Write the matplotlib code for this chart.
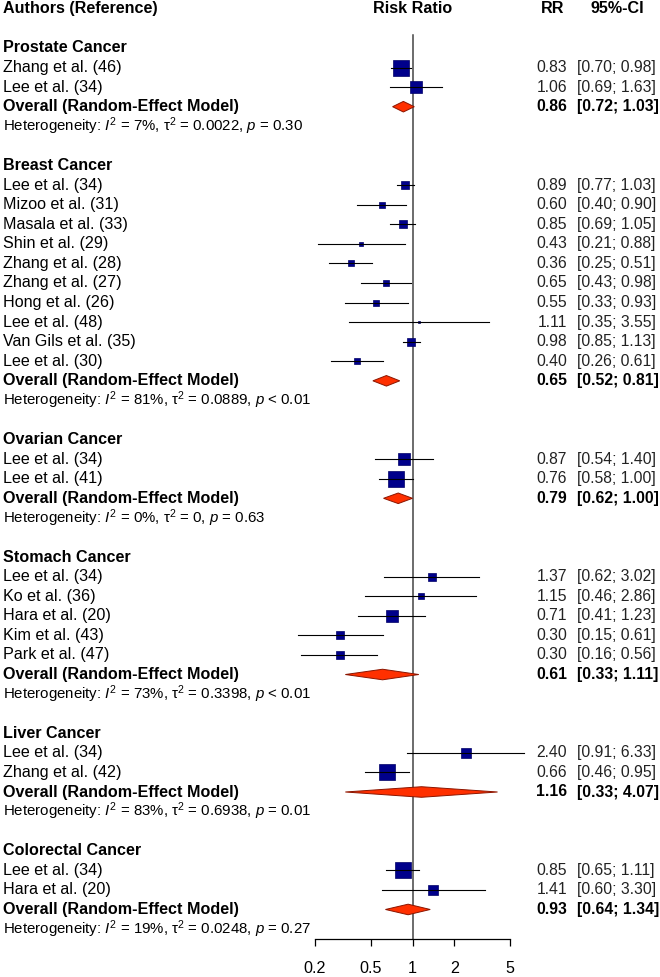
import matplotlib.pyplot as plt
import matplotlib.ticker as ticker
import numpy as np

# Arial-like font, also for the math parts of the heterogeneity line
plt.rcParams['font.family'] = ['Liberation Sans', 'DejaVu Sans']
plt.rcParams['mathtext.fontset'] = 'custom'
plt.rcParams['mathtext.rm'] = 'Liberation Sans'
plt.rcParams['mathtext.it'] = 'Liberation Sans:italic'
plt.rcParams['mathtext.bf'] = 'Liberation Sans:bold'

# Subgroups and their pooled results
groups = ["Prostate Cancer", "Breast Cancer", "Ovarian Cancer",
          "Stomach Cancer", "Liver Cancer", "Colorectal Cancer"]
overall_rr = [0.86, 0.65, 0.79, 0.61, 1.16, 0.93]
overall_lo = [0.72, 0.52, 0.62, 0.33, 0.33, 0.64]
overall_hi = [1.03, 0.81, 1.00, 1.11, 4.07, 1.34]
het_i2 = ["7", "81", "0", "73", "83", "19"]
het_tau2 = ["0.0022", "0.0889", "0", "0.3398", "0.6938", "0.0248"]
het_p = ["= 0.30", "< 0.01", "= 0.63", "< 0.01", "= 0.01", "= 0.27"]

# Individual studies
study_group = [0, 0,
               1, 1, 1, 1, 1, 1, 1, 1, 1, 1,
               2, 2,
               3, 3, 3, 3, 3,
               4, 4,
               5, 5]
study_names = ["Zhang et al. (46)", "Lee et al. (34)",
               "Lee et al. (34)", "Mizoo et al. (31)", "Masala et al. (33)",
               "Shin et al. (29)", "Zhang et al. (28)", "Zhang et al. (27)",
               "Hong et al. (26)", "Lee et al. (48)", "Van Gils et al. (35)",
               "Lee et al. (30)",
               "Lee et al. (34)", "Lee et al. (41)",
               "Lee et al. (34)", "Ko et al. (36)", "Hara et al. (20)",
               "Kim et al. (43)", "Park et al. (47)",
               "Lee et al. (34)", "Zhang et al. (42)",
               "Lee et al. (34)", "Hara et al. (20)"]
study_rr = [0.83, 1.06,
            0.89, 0.60, 0.85, 0.43, 0.36, 0.65, 0.55, 1.11, 0.98, 0.40,
            0.87, 0.76,
            1.37, 1.15, 0.71, 0.30, 0.30,
            2.40, 0.66,
            0.85, 1.41]
study_lo = [0.70, 0.69,
            0.77, 0.40, 0.69, 0.21, 0.25, 0.43, 0.33, 0.35, 0.85, 0.26,
            0.54, 0.58,
            0.62, 0.46, 0.41, 0.15, 0.16,
            0.91, 0.46,
            0.65, 0.60]
study_hi = [0.98, 1.63,
            1.03, 0.90, 1.05, 0.88, 0.51, 0.98, 0.93, 3.55, 1.13, 0.61,
            1.40, 1.00,
            3.02, 2.86, 1.23, 0.61, 0.56,
            6.33, 0.95,
            1.11, 3.30]
# weight within subgroup (%), gives the box size
study_weight = [60, 40,
                15.5, 10, 13.5, 5.5, 11, 10, 9, 2, 13.5, 10,
                40, 60,
                16, 12, 32, 20, 20,
                25, 75,
                70, 30]
axis_ticks = [0.2, 0.5, 1, 2, 5]

# Figure: one axes over the whole canvas, x on log scale, y = row number
W, H = 660, 977
fig = plt.figure(figsize=(W / 100, H / 100), dpi=100)
ax = fig.add_axes([0, 0, 1, 1])
ax.set_xscale('log')
px_one, px_dec = 412.5, 139.5        # pixel of RR = 1 and pixels per decade
row0, pitch = 8.8, 19.58             # pixel of row 0 and row height
ax.set_xlim(10 ** (-px_one / px_dec), 10 ** ((W - px_one) / px_dec))
ax.set_ylim((H - row0) / pitch, -row0 / pitch)
tr = ax.get_yaxis_transform()        # x in axes fraction, y in rows


def fx(px):
    return px / W


fs = 11.6
fs_val = 11.3
x_lab, x_rr, x_ci = 3, 567, 577
val_color = '#222222'

# Column headings
ax.text(fx(x_lab), 0, "Authors (Reference)", transform=tr, fontsize=fs,
        fontweight='bold', va='center', ha='left')
ax.text(fx(px_one), 0, "Risk Ratio", transform=tr, fontsize=fs,
        fontweight='bold', va='center', ha='center')
ax.text(fx(x_rr - 3), 0, "RR", transform=tr, fontsize=fs,
        fontweight='bold', va='center', ha='right')
ax.text(fx(617), 0, "95%-CI", transform=tr, fontsize=fs,
        fontweight='bold', va='center', ha='center')

study_group = np.array(study_group)
box_color = '#00008B'
row = 2
for g, name in enumerate(groups):
    ax.text(fx(x_lab), row, name, transform=tr, fontsize=fs,
            fontweight='bold', va='center')
    row += 1
    for i in np.where(study_group == g)[0]:
        # box and confidence interval
        side = 1.95 * np.sqrt(study_weight[i]) * 0.72
        ax.plot(study_rr[i], row, marker='s', markersize=side,
                color=box_color, markeredgecolor='#000066',
                markeredgewidth=0.5, zorder=3)
        ax.plot([study_lo[i], study_hi[i]], [row, row], color='black',
                lw=0.8, zorder=4)
        ax.text(fx(x_lab), row, study_names[i], transform=tr, fontsize=fs,
                va='center')
        ax.text(fx(x_rr), row, f"{study_rr[i]:.2f}", transform=tr,
                fontsize=fs_val, va='center', ha='right', color=val_color)
        ax.text(fx(x_ci), row, f"[{study_lo[i]:.2f}; {study_hi[i]:.2f}]",
                transform=tr, fontsize=fs_val, va='center', ha='left',
                color=val_color)
        row += 1
    # pooled diamond
    h = 0.27
    ax.fill([overall_lo[g], overall_rr[g], overall_hi[g], overall_rr[g]],
            [row, row - h, row, row + h], facecolor='#FF3000',
            edgecolor='#8B1500', lw=0.7, zorder=3)
    ax.text(fx(x_lab), row, "Overall (Random-Effect Model)", transform=tr,
            fontsize=fs, fontweight='bold', va='center')
    ax.text(fx(x_rr), row, f"{overall_rr[g]:.2f}", transform=tr,
            fontsize=fs_val, fontweight='bold', va='center', ha='right')
    ax.text(fx(x_ci), row, f"[{overall_lo[g]:.2f}; {overall_hi[g]:.2f}]",
            transform=tr, fontsize=fs_val, fontweight='bold', va='center',
            ha='left')
    row += 1
    het = (r"Heterogeneity: $I^2$ = " + het_i2[g] + r"%, τ$^2$ = "
           + het_tau2[g] + r", $p$ " + het_p[g])
    ax.text(fx(x_lab), row, het, transform=tr, fontsize=10.8, va='center')
    row += 2

# Line of no effect and the x axis
axis_row = (939 - row0) / pitch
ax.plot([1, 1], [1.34, axis_row], color='#444444', lw=1.1, zorder=2)
for s in ['top', 'left', 'right']:
    ax.spines[s].set_visible(False)
ax.spines['bottom'].set_position(('data', axis_row))
ax.spines['bottom'].set_bounds(axis_ticks[0], axis_ticks[-1])
ax.spines['bottom'].set_linewidth(0.9)
ax.set_xticks(axis_ticks)
ax.set_xticklabels([f"{t:g}" for t in axis_ticks])
ax.xaxis.set_minor_locator(ticker.NullLocator())
ax.tick_params(axis='x', length=5, width=0.9, labelsize=fs, pad=11)
ax.set_yticks([])

fig.savefig('out.png', dpi=100)
